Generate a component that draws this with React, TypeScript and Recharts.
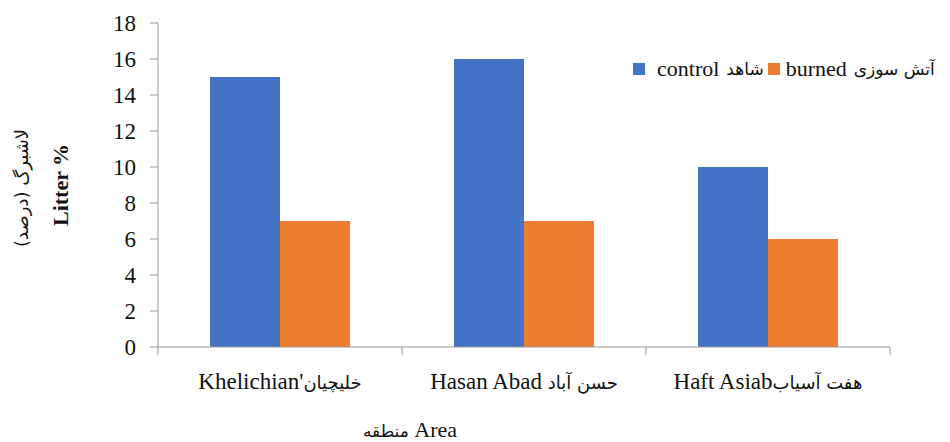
import { BarChart, Bar, XAxis, YAxis } from 'recharts';

const areas = ["Khelichian'خلیچیان", 'Hasan Abad حسن آباد', 'Haft Asiabهفت آسیاب'];
const control = [15, 16, 10];
const burned = [7, 7, 6];
const yTicks = [0, 2, 4, 6, 8, 10, 12, 14, 16, 18];

const data = areas.map((area, i) => ({ area, control: control[i], burned: burned[i] }));

const W = 950;
const H = 442;
const YW = 60;
const XH = 30;
const M = { top: 23, right: 60, left: 158 - YW, bottom: 95 - XH };
const band = (W - 158 - M.right) / areas.length;
const font = 'Liberation Serif';
const faFont = 'DejaVu Sans';

// split a label into its latin part and its persian part
const splitLabel = (s: string) => {
    const m = s.match(/^([^\u0600-\u06FF]*)(.*)$/);
    return m ? [m[1], m[2]] : [s, ''];
};

const AreaTick = ({ x, y, payload, index }: any) => {
    const [lat, fa] = splitLabel(payload.value);
    return (
        <g>
            <line x1={x - band / 2} x2={x - band / 2} y1={y - 8} y2={y} stroke="#999" />
            {index === areas.length - 1 && (
                <line x1={x + band / 2} x2={x + band / 2} y1={y - 8} y2={y} stroke="#999" />
            )}
            <text x={x} y={y + 34} textAnchor="middle" fill="#111">
                <tspan fontFamily={font} fontSize={23}>{lat}</tspan>
                <tspan fontFamily={faFont} fontSize={18}>{fa}</tspan>
            </text>
        </g>
    );
};

const YTick = ({ x, y, payload }: any) => (
    <text x={x} y={y} dx={-12} dy={8} textAnchor="end" fontFamily={font} fontSize={23} fill="#111">
        {payload.value}
    </text>
);

const LegendBox = () => (
    <div style={{ position: 'absolute', left: 633, top: 56, display: 'flex', alignItems: 'center', fontFamily: font, fontSize: 22, color: '#111', whiteSpace: 'nowrap' }}>
        <span style={{ width: 12, height: 12, background: '#4472C4', display: 'inline-block', marginRight: 12 }} />
        <span>control</span>
        <span style={{ fontFamily: faFont, fontSize: 17, marginLeft: 7, marginRight: 4 }}>شاهد</span>
        <span style={{ width: 12, height: 12, background: '#ED7D31', display: 'inline-block', marginRight: 6 }} />
        <span>burned</span>
        <span style={{ fontFamily: faFont, fontSize: 17, marginLeft: 7 }}>آتش سوزی</span>
    </div>
);

export default function App() {
    return (
        <div style={{ position: 'absolute', left: 0, top: 0, width: W, height: H, background: '#fff', fontFamily: font, overflow: 'hidden' }}>
            <BarChart width={W} height={H} data={data} margin={M} barGap={0}>
                <XAxis
                    dataKey="area"
                    height={XH}
                    tick={<AreaTick />}
                    tickLine={false}
                    axisLine={{ stroke: '#999' }}
                    interval={0}
                />
                <YAxis
                    width={YW}
                    domain={[0, 18]}
                    ticks={yTicks}
                    interval={0}
                    tickSize={8}
                    tickLine={{ stroke: '#999' }}
                    axisLine={{ stroke: '#999' }}
                    tick={<YTick />}
                />
                <Bar dataKey="control" fill="#4472C4" barSize={70} isAnimationActive={false} />
                <Bar dataKey="burned" fill="#ED7D31" barSize={70} isAnimationActive={false} />
            </BarChart>
            <LegendBox />
            <div style={{ position: 'absolute', left: 61, top: 185, transform: 'translate(-50%, -50%) rotate(-90deg)', fontFamily: font, fontSize: 22, fontWeight: 'bold', whiteSpace: 'nowrap', color: '#111' }}>
                Litter %
            </div>
            <div style={{ position: 'absolute', left: 21, top: 188, transform: 'translate(-50%, -50%) rotate(-90deg)', fontFamily: faFont, fontSize: 18, whiteSpace: 'nowrap', color: '#111' }}>
                لاشبرگ (درصد)
            </div>
            <div style={{ position: 'absolute', left: 410, top: 420, transform: 'translateX(-50%)', fontSize: 22, lineHeight: '20px', whiteSpace: 'nowrap', color: '#111' }}>
                <span style={{ fontFamily: faFont, fontSize: 17 }}>منطقه</span> Area
            </div>
        </div>
    );
}
